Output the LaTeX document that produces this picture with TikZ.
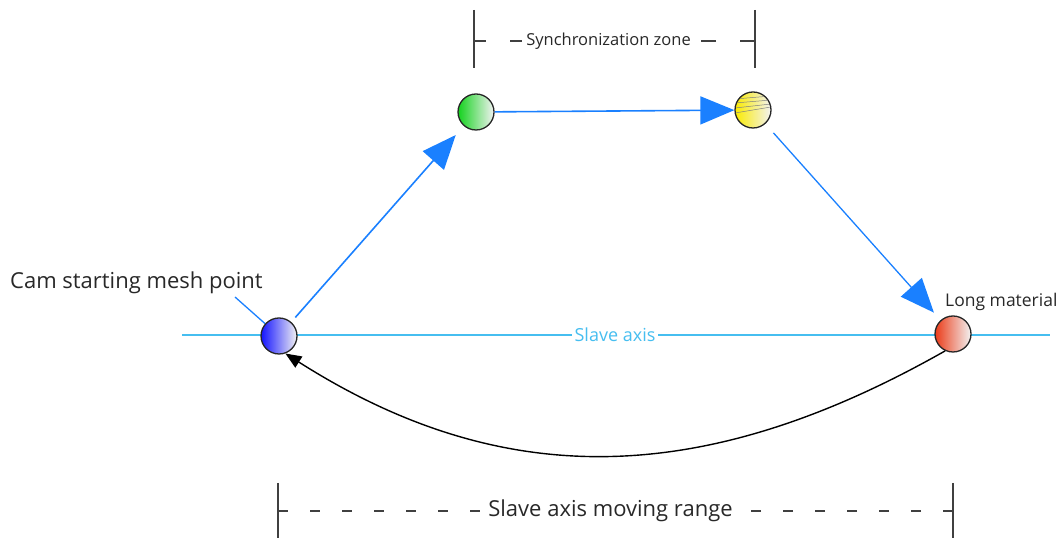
\documentclass[tikz,border=0pt]{standalone}
\usepackage{fontspec}
\setmainfont{Open Sans}
\usetikzlibrary{arrows.meta}
\definecolor{arrowblue}{RGB}{26,128,255}
\definecolor{axisblue}{RGB}{70,190,240}
\definecolor{txt}{RGB}{40,40,40}
\begin{document}
\begin{tikzpicture}[x=1pt,y=1pt,
 ball/.style={circle,draw=black!85,line width=1.3pt,minimum size=36pt,inner sep=0pt,right color=white!95!black},
 flow/.style={draw=arrowblue,line width=1.6pt,-{Triangle[length=34pt,width=28pt]}},
 bar/.style={draw=black!75,line width=1.4pt},
 dim/.style={draw=black!75,line width=1.2pt},
 lbl/.style={text=txt,inner sep=0pt}]
\useasboundingbox (0,0) rectangle (1062,540);
% slave axis
\coordinate (axL) at (182,205);
\coordinate (axR) at (1050,205);
\draw[axisblue,line width=1.4pt] (axL) -- (axR);
\node[fill=white,text=axisblue,font=\fontsize{18}{20}\selectfont,inner xsep=3pt,inner ysep=1pt] (axlbl) at (615,205) {Slave axis};
% balls
\node[ball,left color={rgb,255:red,20;green,20;blue,255}] (blue) at (279,204) {};
\node[ball,left color={rgb,255:red,20;green,210;blue,30}] (green) at (476,428) {};
\node[ball,left color={rgb,255:red,250;green,235;blue,0}] (yellow) at (753,430) {};
\node[ball,left color={rgb,255:red,235;green,60;blue,25}] (red) at (953,206) {};
\begin{scope}
\clip (yellow.center) circle (17pt);
\draw[gray,line width=0.5pt] (735,441) -- (771,444);
\draw[gray,line width=0.5pt] (735,437) -- (771,440);
\draw[gray,line width=0.5pt] (735,432) -- (771,436);
\draw[gray,line width=0.5pt] (735,427) -- (771,433);
\end{scope}
% flow arrows
\draw[flow,shorten <=6pt,shorten >=12pt] (blue) -- (green);
\draw[flow] (green) -- (yellow);
\draw[flow,line width=1.3pt,shorten <=12pt,shorten >=10pt] (yellow) -- (red);
% return arrow
\draw[black,line width=1.4pt,-{Triangle[length=16pt,width=13pt]}] (red.245) .. controls (700,50) and (500,50) .. (blue.-70);
% labels
\node[lbl,anchor=west,font=\fontsize{22}{24}\selectfont] (cam) at (10,257) {Cam starting mesh point};
\coordinate (lead) at (235,243);
\draw[arrowblue,line width=1.3pt] (lead) -- (blue);
\node[lbl,anchor=west,font=\fontsize{17.5}{19}\selectfont] (long) at (945,238) {Long material};
% synchronization zone
\coordinate (t1a) at (474,530); \coordinate (t1b) at (474,472);
\coordinate (t2a) at (755,530); \coordinate (t2b) at (755,472);
\coordinate (t1m) at (474,499); \coordinate (t2m) at (755,499);
\draw[bar] (t1a) -- (t1b);
\draw[bar] (t2a) -- (t2b);
\node[lbl,font=\fontsize{16.5}{18}\selectfont] (sync) at (608.5,499) {Synchronization zone};
\draw[dim,dash pattern=on 12pt off 24pt] (t1m) -- (sync.west);
\draw[dim,dash pattern=on 15pt off 24pt] (t2m) -- (sync.east);
% moving range
\coordinate (b1a) at (278,57); \coordinate (b1b) at (278,2);
\coordinate (b2a) at (953,57); \coordinate (b2b) at (953,2);
\coordinate (b1m) at (278,29); \coordinate (b2m) at (953,29);
\draw[bar] (b1a) -- (b1b);
\draw[bar] (b2a) -- (b2b);
\node[lbl,font=\fontsize{22}{24}\selectfont] (range) at (610.5,29) {Slave axis moving range};
\draw[dim,dash pattern=on 10pt off 22pt] (b1m) -- (range.west);
\draw[dim,dash pattern=on 10pt off 22pt] (b2m) -- (range.east);
\end{tikzpicture}
\end{document}
